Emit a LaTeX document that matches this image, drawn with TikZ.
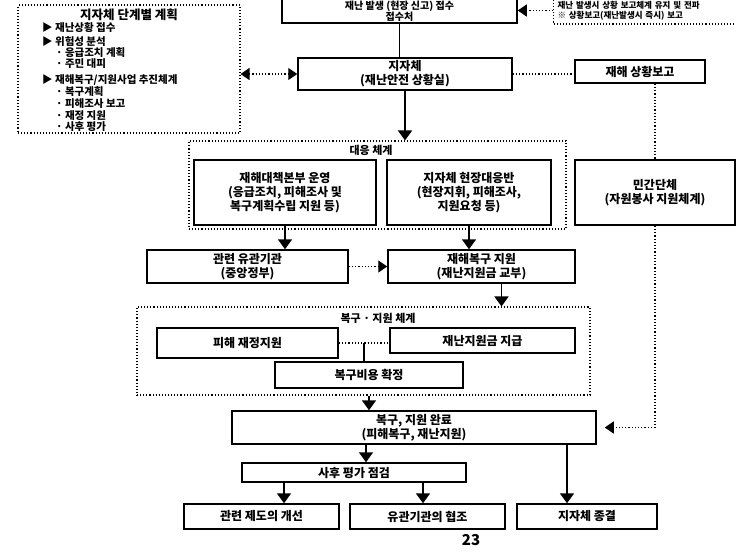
\documentclass[tikz,border=0pt]{standalone}
\usepackage{fontspec}
\setmainfont{Noto Sans CJK KR}
\usetikzlibrary{arrows.meta,positioning,calc}
\tikzset{
  flow-box/.style={draw=black, line width=1.5pt, fill=white, align=center,
    font=\fontsize{12}{14}\selectfont\bfseries, inner sep=2pt},
  flow-group/.style={draw=black, dotted, line width=1.1pt},
  flow-line/.style={line width=1.6pt},
  flow-arrow/.style={-{Triangle[width=14pt,length=10pt]}, line width=1.8pt},
  flow-link/.style={dotted, line width=1.2pt},
  flow-label/.style={font=\fontsize{11}{12}\selectfont\bfseries, inner sep=1pt},
  list-item/.style={anchor=west, font=\fontsize{10.5}{11}\selectfont\bfseries, inner sep=0pt}
}

\begin{document}
\begin{tikzpicture}[x=1pt, y=-1pt, >={Triangle[width=12pt,length=9pt]}]
  \useasboundingbox (0,0) rectangle (736,555);
  \clip (0,0) rectangle (736,555);

  % Left list box
  \node[flow-group, minimum width=222pt, minimum height=128pt] (info) at (129,69) {};
  \node[flow-label, font=\fontsize{12.5}{13}\selectfont\bfseries] (infotitle) at (129,15) {지자체 단계별 계획};
  \foreach \i/\x/\y/\txt in {1/42/28/{▶ 재난상황 접수}, 2/42/42/{▶ 위험성 분석},
      3/56/53/{· 응급조치 계획}, 4/56/64/{· 주민 대피},
      5/42/80/{▶ 재해복구/지원사업 추진체계}, 6/56/92/{· 복구계획},
      7/56/104/{· 피해조사 보고}, 8/56/116/{· 재정 지원}, 9/56/127/{· 사후 평가}} {
    \node[list-item] (item\i) at (\x,\y) {\txt};
  }

  % Top row
  \node[flow-box, minimum width=235pt, minimum height=24pt, inner sep=0pt,
    font=\fontsize{10}{11}\selectfont\bfseries] (report) at (399.5,11) {재난 발생 (현장 신고) 접수\\접수처};
  \node[flow-group, anchor=west, text width=205pt, inner sep=4pt, minimum height=26pt,
    align=left, font=\fontsize{8.5}{10}\selectfont\bfseries] (notice) at (553,10.5)
    {재난 발생시 상황 보고체계 유지 및 전파\\※ 상황보고(재난발생시 즉시) 보고};

  % Local government
  \node[flow-box, minimum width=214pt, minimum height=32pt] (gov) at (405,74) {지자체\\(재난안전 상황실)};
  \node[flow-box, minimum width=130pt, minimum height=23pt] (rpt) at (640,71.5) {재해 상황보고};

  % Response group
  \node[flow-group, minimum width=377pt, minimum height=88pt] (grp1) at (377.5,185) {};
  \node[flow-label] (grp1lab) at (371,150) {대응 체계};
  \node[flow-box, minimum width=182pt, minimum height=65pt] (plan) at (285,192.5)
    {재해대책본부 운영\\(응급조치, 피해조사 및\\복구계획수립 지원 등)};
  \node[flow-box, minimum width=164pt, minimum height=65pt] (site) at (469,192.5)
    {지자체 현장대응반\\(현장지휘, 피해조사,\\지원요청 등)};
  \node[flow-box, minimum width=160pt, minimum height=65pt] (civ) at (655,192.5)
    {민간단체\\(자원봉사 지원체계)};

  \node[flow-box, minimum width=201pt, minimum height=33pt] (agency) at (247.5,266.5) {관련 유관기관\\(중앙정부)};
  \node[flow-box, minimum width=187pt, minimum height=33pt] (aid) at (481.5,266.5) {재해복구 지원\\(재난지원금 교부)};

  % Recovery group
  \node[flow-group, minimum width=453pt, minimum height=88pt] (grp2) at (363.5,351) {};
  \node[flow-label] (grp2lab) at (378,318) {복구 · 지원 체계};
  \node[flow-box, minimum width=181pt, minimum height=30pt] (gen) at (247.5,343) {피해 재정지원};
  \node[flow-box, minimum width=185pt, minimum height=25pt] (ins) at (482.5,340.5) {재난지원금 지급};
  \node[flow-box, minimum width=188pt, minimum height=26pt] (cost) at (369,375) {복구비용 확정};

  % Completion
  \node[flow-box, minimum width=364pt, minimum height=33pt] (fin) at (414,427.5) {복구, 지원 완료\\(피해복구, 재난지원)};
  \node[flow-box, minimum width=224pt, minimum height=19pt] (post) at (354,472.5) {사후 평가 점검};
  \node[flow-box, minimum width=155pt, minimum height=25pt] (law) at (261.5,516.5) {관련 제도의 개선};
  \node[flow-box, minimum width=155pt, minimum height=25pt] (coop) at (427.5,516.5) {유관기관의 협조};
  \node[flow-box, minimum width=140pt, minimum height=25pt] (close) at (587,516.5) {지자체 종결};

  \node[font=\fontsize{15}{15}\selectfont\bfseries] (pageno) at (471,540) {23};

  % Connectors
  \draw[flow-line] (report.south) -- (report.south |- gov.north);
  \draw[flow-link, ->] (notice.west) -- (notice.west -| report.east);
  \draw[flow-link, <->] (gov.west -| info.east) -- (gov.west);
  \draw[flow-link] (gov.east) -- (gov.east -| rpt.west);
  \draw[flow-link] (rpt.south -| civ.north) -- (civ.north);
  \draw[flow-link, ->, shorten >=8pt] (civ.south) |- (fin.east);
  \draw[flow-arrow] (gov.south) -- (gov.south |- grp1.north);
  \draw[flow-arrow] (plan.south) -- (plan.south |- agency.north);
  \draw[flow-arrow] (site.south) -- (site.south |- aid.north);
  \draw[flow-link, ->] (agency.east) -- (aid.west);
  \coordinate (aidout) at ([xshift=20pt]aid.south);
  \draw[flow-arrow] (aidout) -- (aidout |- grp2.north);
  \draw[flow-link] (gen.east) -- (gen.east -| ins.west);
  \coordinate (split) at ($(gen.east)!0.5!(gen.east -| ins.west)$);
  \draw[flow-line] (split) -- (split |- cost.north);
  \draw[flow-arrow] (cost.south |- grp2.south) -- (cost.south |- fin.north);
  \coordinate (finout) at ([xshift=-48pt]fin.south);
  \draw[flow-arrow] (finout) -- (finout |- post.north);
  \coordinate (finright) at ([xshift=153pt]fin.south);
  \draw[flow-arrow] (finright) -- (finright |- close.north);
  \coordinate (postleft) at ([xshift=-70pt]post.south);
  \draw[flow-arrow] (postleft) -- (postleft |- law.north);
  \coordinate (postright) at ([xshift=69pt]post.south);
  \draw[flow-arrow] (postright) -- (postright |- coop.north);
\end{tikzpicture}
\end{document}
